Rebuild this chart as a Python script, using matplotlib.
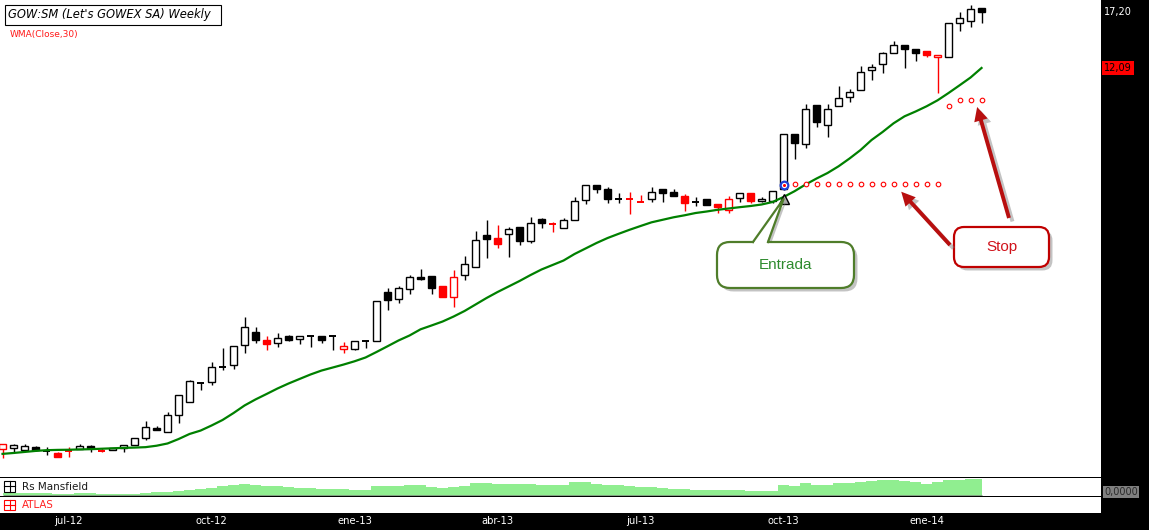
import numpy as np
import pandas as pd
import matplotlib
matplotlib.use("Agg")
import matplotlib.pyplot as plt
import matplotlib.transforms as mtransforms
from matplotlib import patheffects as pe
from matplotlib.patches import Rectangle, FancyBboxPatch, FancyArrowPatch, Polygon
from matplotlib.lines import Line2D
from matplotlib.ticker import NullLocator

plt.rcParams["font.family"] = ["DejaVu Sans"]

W, H = 1149, 530

# weekly bars GOW:SM, May 2012 - Feb 2014
opens = [1.097, 1.101, 1.088, 1.110, 1.083, 1.069, 1.085, 1.099, 1.117, 1.081,
         1.088, 1.106, 1.127, 1.173, 1.253, 1.218, 1.355, 1.471, 1.658, 1.669,
         1.834, 1.857, 2.107, 2.287, 2.178, 2.133, 2.234, 2.188, 2.234, 2.234,
         2.234, 2.054, 2.054, 2.165, 2.161, 2.947, 2.814, 2.998, 3.233, 3.260,
         3.055, 2.850, 3.274, 3.444, 4.212, 4.134, 4.239, 4.431, 4.064, 4.659,
         4.515, 4.403, 4.639, 5.252, 5.773, 5.640, 5.295, 5.295, 5.186, 5.295,
         5.629, 5.545, 5.386, 5.206, 5.285, 5.121, 4.941, 5.329, 5.510, 5.219,
         5.213, 5.651, 7.960, 7.474, 9.555, 8.424, 9.496, 10.050, 10.502, 11.912,
         12.371, 13.285, 13.945, 13.597, 13.428, 12.931, 12.931, 16.018, 16.221, 17.606]
highs = [1.132, 1.132, 1.132, 1.120, 1.110, 1.078, 1.110, 1.132, 1.124, 1.101,
         1.104, 1.125, 1.175, 1.310, 1.267, 1.384, 1.538, 1.693, 1.658, 1.896,
         2.071, 2.097, 2.517, 2.360, 2.234, 2.277, 2.248, 2.234, 2.234, 2.234,
         2.234, 2.151, 2.161, 2.165, 2.785, 3.023, 3.061, 3.287, 3.401, 3.260,
         3.061, 3.386, 3.698, 4.329, 4.639, 4.495, 4.439, 4.439, 4.737, 4.689,
         4.572, 4.689, 5.372, 5.773, 5.773, 5.701, 5.489, 5.524, 5.430, 5.722,
         5.629, 5.629, 5.465, 5.372, 5.285, 5.121, 5.396, 5.510, 5.510, 5.372,
         5.580, 7.960, 7.960, 9.616, 9.555, 9.616, 10.771, 10.568, 12.240, 12.371,
         13.394, 14.301, 13.945, 13.597, 13.428, 13.094, 16.018, 17.233, 18.009, 17.606]
lows = [1.036, 1.078, 1.083, 1.083, 1.056, 1.044, 1.041, 1.094, 1.078, 1.078,
        1.086, 1.078, 1.127, 1.158, 1.233, 1.218, 1.293, 1.471, 1.593, 1.644,
        1.799, 1.818, 2.001, 2.142, 2.049, 2.088, 2.161, 2.128, 2.088, 2.142,
        2.049, 2.011, 2.041, 2.075, 2.158, 2.626, 2.744, 2.916, 3.173, 2.916,
        2.856, 2.686, 3.173, 3.444, 3.658, 3.896, 3.681, 3.956, 4.021, 4.419,
        4.301, 4.403, 4.639, 5.121, 5.489, 5.173, 5.173, 4.827, 5.186, 5.206,
        5.206, 5.386, 4.919, 5.077, 5.089, 4.839, 4.839, 5.186, 5.153, 5.186,
        5.173, 5.604, 6.800, 7.288, 8.319, 7.840, 9.496, 9.737, 10.502, 11.229,
        11.734, 13.285, 12.109, 12.656, 12.931, 10.345, 12.931, 15.289, 15.678, 16.079]
closes = [1.128, 1.122, 1.115, 1.092, 1.083, 1.045, 1.085, 1.117, 1.104, 1.081,
          1.101, 1.122, 1.175, 1.259, 1.238, 1.355, 1.538, 1.680, 1.658, 1.834,
          1.834, 2.094, 2.360, 2.174, 2.128, 2.202, 2.174, 2.234, 2.234, 2.174,
          2.234, 2.097, 2.161, 2.165, 2.779, 2.797, 3.017, 3.233, 3.205, 3.028,
          2.861, 3.249, 3.510, 4.082, 4.107, 3.981, 4.375, 4.072, 4.543, 4.543,
          4.515, 4.630, 5.219, 5.773, 5.629, 5.305, 5.295, 5.295, 5.186, 5.545,
          5.489, 5.386, 5.173, 5.206, 5.089, 5.026, 5.305, 5.510, 5.229, 5.305,
          5.580, 7.960, 7.521, 9.317, 8.585, 9.317, 9.987, 10.410, 11.764, 12.140,
          13.259, 13.945, 13.597, 13.310, 13.094, 13.094, 16.018, 16.531, 17.496, 17.20]

# WMA(Close,30)
wma30 = [1.063, 1.069, 1.076, 1.083, 1.088, 1.090, 1.091, 1.093, 1.095, 1.098,
         1.101, 1.104, 1.106, 1.109, 1.119, 1.135, 1.167, 1.205, 1.231, 1.271,
         1.316, 1.375, 1.442, 1.498, 1.550, 1.605, 1.656, 1.704, 1.753, 1.797,
         1.831, 1.866, 1.905, 1.951, 2.020, 2.094, 2.172, 2.241, 2.330, 2.387,
         2.447, 2.525, 2.615, 2.724, 2.838, 2.947, 3.051, 3.159, 3.280, 3.397,
         3.494, 3.594, 3.745, 3.877, 4.014, 4.141, 4.252, 4.362, 4.467, 4.572,
         4.645, 4.719, 4.779, 4.848, 4.894, 4.947, 4.988, 5.029, 5.067, 5.115,
         5.196, 5.362, 5.562, 5.802, 6.025, 6.238, 6.507, 6.835, 7.210, 7.679,
         8.076, 8.531, 8.916, 9.189, 9.496, 9.861, 10.326, 10.838, 11.384, 12.09]

rs_mansfield = [0.17, 0.17, 0.17, 0.17, 0.17, 0.15, 0.15, 0.17, 0.17, 0.15,
                0.10, 0.10, 0.15, 0.23, 0.27, 0.30, 0.40, 0.50, 0.60, 0.73,
                0.90, 1.00, 1.10, 1.00, 0.90, 0.87, 0.83, 0.75, 0.67, 0.60,
                0.63, 0.63, 0.50, 0.50, 0.90, 0.90, 0.95, 1.05, 1.00, 0.83,
                0.70, 0.80, 0.90, 1.20, 1.20, 1.10, 1.10, 1.10, 1.10, 1.05,
                1.00, 1.00, 1.30, 1.30, 1.15, 1.00, 1.00, 0.95, 0.80, 0.80,
                0.75, 0.63, 0.63, 0.55, 0.50, 0.50, 0.50, 0.50, 0.40, 0.40,
                0.40, 1.00, 0.93, 1.17, 1.03, 1.05, 1.17, 1.25, 1.33, 1.40,
                1.55, 1.50, 1.40, 1.30, 1.10, 1.30, 1.50, 1.55, 1.60, 1.60]

# weeks flagged in red by the system
red_weeks = [0, 5, 6, 9, 24, 31, 40, 41, 45, 50, 57, 58, 62, 65, 66, 68, 84, 85]

entry_week = 71
entry_price = 5.78
stop_weeks = [72, 73, 74, 75, 76, 77, 78, 79, 80, 81, 82, 83, 84, 85, 86, 87, 88, 89]
stop_values = [5.83, 5.83, 5.83, 5.83, 5.83, 5.83, 5.83, 5.83, 5.83, 5.83,
               5.83, 5.83, 5.83, 5.83, 9.51, 9.88, 9.88, 9.88]

week_ending = pd.date_range("2012-05-25", periods=len(closes), freq="W-FRI")
meses = {1: "ene", 4: "abr", 7: "jul", 10: "oct"}


def coma(v, d=2):
    return f"{v:.{d}f}".replace(".", ",")


x = np.arange(len(closes))
o, h, l, c = (np.array(a) for a in (opens, highs, lows, closes))

fig = plt.figure(figsize=(W / 100, H / 100), dpi=100, facecolor="black")
ax = fig.add_axes([0, 53 / H, 1101 / W, 477 / H], facecolor="white")
ax_rs = fig.add_axes([0, 34 / H, 1101 / W, 18 / H], facecolor="white")
ax_at = fig.add_axes([0, 17 / H, 1101 / W, 16 / H], facecolor="white")

ax.set_yscale("log")
for a in (ax, ax_rs, ax_at):
    a.set_xlim(-0.23, 99.86)
    for s in a.spines.values():
        s.set_visible(False)
    a.yaxis.set_major_locator(NullLocator())
    a.yaxis.set_minor_locator(NullLocator())
    a.tick_params(which="both", left=False, bottom=False, labelleft=False, labelbottom=False)
ax.set_ylim(0.9189, 18.553)

# candles
edge = ["#ff0000" if i in red_weeks else "black" for i in x]
bw = 0.7
ax.vlines(x, l, h, colors=edge, lw=1.0, zorder=2)
for i in x:
    if c[i] == o[i]:
        ax.hlines(c[i], i - bw / 2, i + bw / 2, colors=edge[i], lw=1.4, zorder=3)
    else:
        lo, hi = min(o[i], c[i]), max(o[i], c[i])
        face = "white" if c[i] > o[i] else edge[i]
        ax.add_patch(Rectangle((i - bw / 2, lo), bw, hi - lo, facecolor=face,
                               edgecolor=edge[i], lw=1.0, zorder=3))

ax.plot(x, wma30, color="#008000", lw=1.6, zorder=4)

# stops and entry
ax.plot(stop_weeks, stop_values, ls="none", marker="o", ms=3.3, mfc="white",
        mec="#ff0000", mew=0.8, zorder=5)
ax.plot(entry_week, entry_price, marker="o", ms=5.5, mfc="white", mec="#1f3fd6", mew=1.6, zorder=6)
ax.plot(entry_week, entry_price, marker="o", ms=2.2, mfc="#ff0000", mec="none", zorder=7)
tri_price = lows[entry_week] * 0.945
ax.plot(entry_week, tri_price, marker="^", ms=7, mfc="#a8a8a8", mec="black", mew=1.0, zorder=6)

# Rs Mansfield panel
ax_rs.fill_between(x, 0, rs_mansfield, step="mid", color="#90ee90", lw=0)
ax_rs.hlines(0, x[0], x[-1], color="#7f9f7f", lw=0.7)
ax_rs.set_ylim(-0.1, 1.7)

# date axis
months = week_ending.month
ticks = [i for i in range(1, len(x)) if months[i] != months[i - 1] and months[i] in meses]
labels = [f"{meses[week_ending[i].month]}-{week_ending[i]:%y}" for i in ticks]
ax_at.set_xticks(ticks)
ax_at.set_xticklabels(labels, color="white", fontsize=7.2)
ax_at.tick_params(axis="x", length=0, pad=2.5, labelbottom=True)

# pixel transform (origin bottom-left)
px = mtransforms.Affine2D().scale(1 / fig.dpi) + fig.dpi_scale_trans


def to_px(a, xy):
    return px.inverted().transform(a.transData.transform(xy))


# right price labels
blend = mtransforms.blended_transform_factory(fig.transFigure, ax.transData)
fig.text(1104 / W, closes[-1], coma(closes[-1]), transform=blend, color="white",
         fontsize=7, va="center")
fig.text(1104 / W, wma30[-1], coma(wma30[-1]), transform=blend, color="black",
         fontsize=7, va="center",
         bbox=dict(boxstyle="square,pad=0.25", fc="#ff0000", ec="none"))
fig.text(1104, H - 492, coma(0, 4), transform=px, color="#2a2a2a", fontsize=7,
         va="center", bbox=dict(boxstyle="square,pad=0.15", fc="#808080", ec="none"))

# title and legend texts
fig.add_artist(Rectangle((4.5, H - 24.5), 216, 19.5, transform=px, fc="white",
                         ec="black", lw=0.8, zorder=5))
fig.text(8, H - 14.8, "GOW:SM (Let's GOWEX SA) Weekly", transform=px,
         style="italic", fontsize=8.3, va="center", zorder=6)
fig.text(10, H - 35, "WMA(Close,30)", transform=px, color="#ff1a1a", fontsize=6.5, va="center")


def plus_box(x0, top, color):
    fig.add_artist(Rectangle((x0, H - top - 10.5), 11, 10.5, transform=px, fill=False,
                             ec=color, lw=0.8))
    fig.add_artist(Line2D([x0, x0 + 11], [H - top - 5.25] * 2, transform=px, color=color, lw=0.8))
    fig.add_artist(Line2D([x0 + 5.5] * 2, [H - top, H - top - 10.5], transform=px, color=color, lw=0.8))


plus_box(4, 481, "black")
fig.text(21.5, H - 486.5, "Rs Mansfield", transform=px, fontsize=7.5, color="#1a1a1a", va="center")
plus_box(4, 499.5, "#ff0000")
fig.text(21.5, H - 504.5, "ATLAS", transform=px, fontsize=7.4, color="#ff2020", va="center")

# callouts
shadow = [pe.withSimplePatchShadow(offset=(2.5, -2.5), shadow_rgbFace="#7a7a7a", alpha=0.45)]
green = "#4f7d2a"
tip = to_px(ax, (entry_week, tri_price))
fig.add_artist(Polygon([(755.5, H - 245), (tip[0] + 2.5, tip[1] - 3), (770.5, H - 245)],
                       transform=px, fc="#7a7a7a", alpha=0.45, ec="none", zorder=5))
fig.add_artist(FancyBboxPatch((717, H - 288), 137, 46, boxstyle="round,pad=0,rounding_size=13",
                              transform=px, fc="white", ec=green, lw=1.6,
                              path_effects=shadow, zorder=6))
fig.add_artist(Polygon([(754, H - 247), (754, H - 242), tuple(tip), (767, H - 242), (767, H - 247)],
                       transform=px, fc="white", ec="none", zorder=7))
fig.add_artist(Line2D([753, tip[0], 768], [H - 242, tip[1], H - 242], transform=px,
                      color=green, lw=1.6, zorder=8))
fig.text(785.5, H - 265, "Entrada", transform=px, family=["Liberation Sans", "DejaVu Sans"],
         fontsize=11, color="#2e8b2e", ha="center", va="center", zorder=9)

dark_red = "#b80f0f"
fig.add_artist(FancyBboxPatch((954, H - 267), 95, 40, boxstyle="round,pad=0,rounding_size=10",
                              transform=px, fc="white", ec="#c00000", lw=1.6,
                              path_effects=shadow, zorder=6))
fig.text(1001.5, H - 247, "Stop", transform=px, family=["Liberation Sans", "DejaVu Sans"],
         fontsize=11, color="#d0121b", ha="center", va="center", zorder=9)
for tail, tip_data in [((950, H - 245), (81.7, stop_values[9] * 0.951)),
                       ((1009, H - 218), (88.6, stop_values[-1] * 0.957))]:
    head = to_px(ax, tip_data)
    fig.add_artist(FancyArrowPatch(tail, tuple(head), transform=px,
                                   arrowstyle="simple,head_length=1.0,head_width=1.0,tail_width=0.28",
                                   mutation_scale=10, fc=dark_red, ec="none",
                                   shrinkA=0, shrinkB=0, path_effects=shadow, zorder=7))

fig.savefig("out.png", dpi=100, facecolor=fig.get_facecolor())
